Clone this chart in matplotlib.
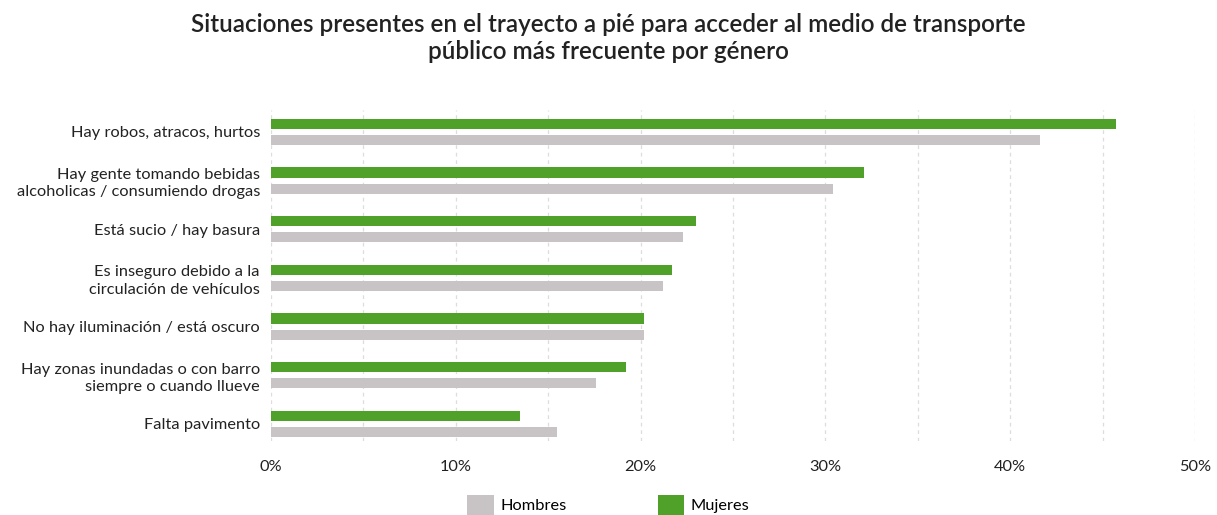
import matplotlib
matplotlib.use("Agg")
import matplotlib.pyplot as plt
import numpy as np
from matplotlib.patches import Patch

categories = [
    "Hay robos, atracos, hurtos",
    "Hay gente tomando bebidas\nalcoholicas / consumiendo drogas",
    "Está sucio / hay basura",
    "Es inseguro debido a la\ncirculación de vehículos",
    "No hay iluminación / está oscuro",
    "Hay zonas inundadas o con barro\nsiempre o cuando llueve",
    "Falta pavimento",
]
mujeres = [45.7, 32.1, 23.0, 21.7, 20.2, 19.2, 13.5]
hombres = [41.6, 30.4, 22.3, 21.2, 20.2, 17.6, 15.5]
xticks = [0, 10, 20, 30, 40, 50]
xticklabels = ["0%", "10%", "20%", "30%", "40%", "50%"]
title = "Situaciones presentes en el trayecto a pié para acceder al medio de transporte\npúblico más frecuente por género"

GREEN = "#4fa12a"
GRAY = "#c8c4c5"
plt.rcParams['font.family'] = ['Lato', 'DejaVu Sans']

fig = plt.figure(figsize=(12.17, 5.15), dpi=100)
ax = fig.add_axes([0.2227, 0.1437, 0.9819 - 0.2227, 0.7864 - 0.1437])

y = np.arange(len(categories))
h = 0.21
ax.barh(y - 0.165, mujeres, height=h, color=GREEN, zorder=2)
ax.barh(y + 0.165, hombres, height=h, color=GRAY, zorder=2)

ax.set_xlim(0, 50)
ax.set_ylim(6.35, -0.45)
ax.set_yticks(y)
ax.set_yticklabels(categories, fontsize=11.8, color="#222222", linespacing=1.3)
ax.set_xticks(xticks)
ax.set_xticklabels(xticklabels, fontsize=11.8, color="#222222")
ax.tick_params(axis='both', length=0)
ax.tick_params(axis='x', pad=14)
ax.tick_params(axis='y', pad=8)
for s in ax.spines.values():
    s.set_visible(False)
for gx in np.arange(0, 51, 5):
    ax.axvline(gx, color="#dddddd", linestyle=(0, (3, 3)), linewidth=0.9, zorder=1)

fig.suptitle(title, fontsize=17.5, fontweight='semibold', color="#222222", y=0.975, linespacing=1.2)

handles = [Patch(facecolor=GRAY, label="Hombres"), Patch(facecolor=GREEN, label="Mujeres")]
fig.legend(handles=handles, loc='lower center', bbox_to_anchor=(0.5, -0.028), ncol=2, frameon=False,
           fontsize=11.8, handlelength=1.6, handleheight=1.5, columnspacing=5.6, handletextpad=0.4)

fig.savefig("out.png", dpi=100)
